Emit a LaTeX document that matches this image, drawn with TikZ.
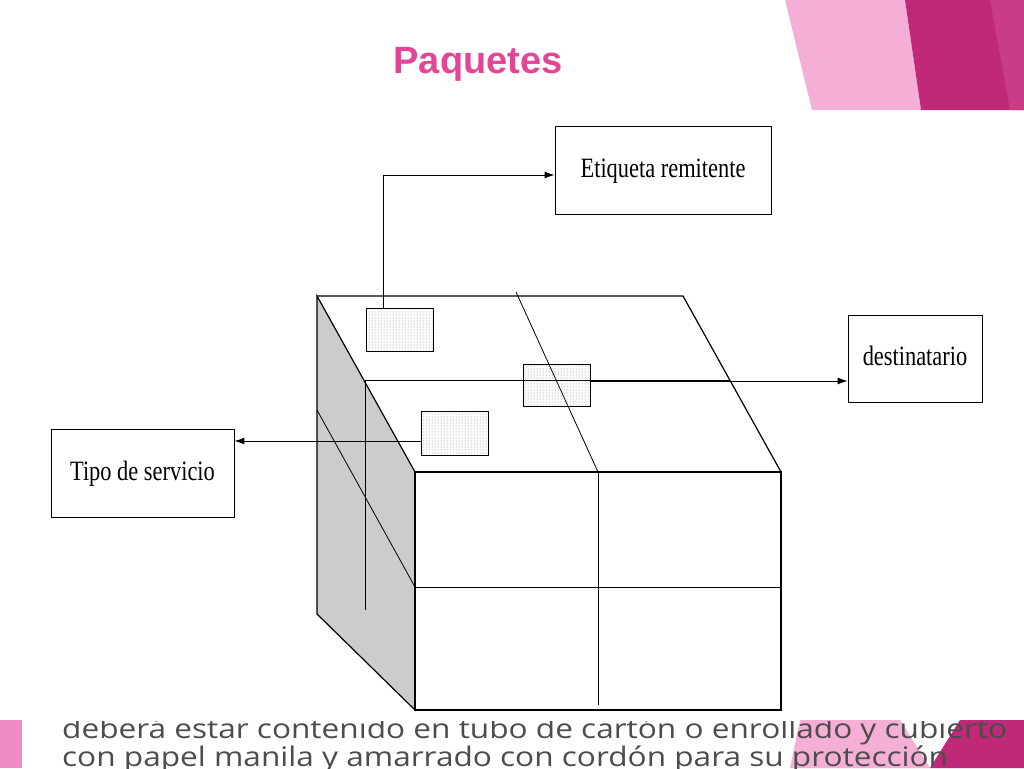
\documentclass[tikz,border=0pt]{standalone}
\usepackage{fontspec}
\setmainfont{Liberation Serif}
\newfontfamily\titlefont{Liberation Sans}
\newfontfamily\bodyfont{Open Sans}
\usetikzlibrary{arrows.meta,patterns}
\definecolor{pinkA}{RGB}{240,140,195}
\definecolor{magA}{RGB}{192,40,120}
\definecolor{titlec}{RGB}{228,70,150}
\begin{document}
\begin{tikzpicture}[x=1pt,y=-1pt,
  lbl/.style={draw,line width=0.8pt,fill=white,minimum width=#1,inner sep=0pt,font=\fontsize{28}{30}\selectfont,text height=19pt,text depth=5pt},
  tag/.style={draw,line width=0.6pt,pattern=dots,pattern color=gray},
  arr/.style={line width=1pt,-{Latex[length=10pt,width=7pt]}},
  edge/.style={line width=1.2pt}]
\useasboundingbox (0,0) rectangle (1024,768);
% decorations
\fill[pinkA!70] (785,0) -- (905,0) -- (921,110) -- (812,110) -- cycle;
\fill[magA] (905,0) -- (1024,0) -- (1024,110) -- (921,110) -- cycle;
\fill[magA!80!pinkA] (990,0) -- (1024,0) -- (1024,110) -- (1010,110) -- cycle;
\fill[pinkA] (0,720) rectangle (22,768);
\fill[pinkA!70] (800,720) -- (900,720) -- (930,768) -- (790,768) -- cycle;
\fill[magA] (960,720) -- (1024,720) -- (1024,768) -- (930,768) -- cycle;
% bottom text (cut off)
\begin{scope}
\clip (0,721) rectangle (1024,768);
\node[anchor=base west,inner sep=0pt,font=\bodyfont\fontsize{27}{30}\selectfont,text=black!70] (t1) at (62,738) {\scalebox{1.17}[1]{deberá estar contenido en tubo de cartón o enrollado y cubierto}};
\node[anchor=base west,inner sep=0pt,font=\bodyfont\fontsize{27}{30}\selectfont,text=black!70] (t2) at (62,766) {\scalebox{1.17}[1]{con papel manila y amarrado con cordón para su protección}};
\end{scope}
% title
\node[font=\titlefont\bfseries\fontsize{38}{42}\selectfont,text=titlec] (title) at (478,64) {Paquetes};
% box
\fill[white] (317,296) -- (683,296) -- (781,472) -- (781,712) -- (415,712) -- (317,614) -- cycle;
\filldraw[fill=gray!40,edge] (317,296) -- (415,472) -- (415,710) -- (317,614) -- cycle;
\draw[edge] (317,296) -- (683,296) -- (781,472) -- (415,472);
\draw[edge] (415,472) rectangle (781,710);
\draw[line width=0.8pt] (415,587) -- (781,587);
\draw[line width=0.8pt] (598,472) -- (598,705);
\draw[line width=0.8pt] (516,292) -- (598,472);
\draw[line width=0.8pt] (365,380) -- (730,380);
\draw[line width=0.8pt] (365,380) -- (365,610);
\draw[line width=0.8pt] (317,410) -- (415,587);
% tags
\node[tag,minimum width=67pt,minimum height=43pt] (g1) at (399.5,329.5) {};
\node[tag,minimum width=67pt,minimum height=42pt] (g2) at (556.5,385) {};
\node[tag,minimum width=67pt,minimum height=44pt] (g3) at (454.5,433) {};
% labels
\node[lbl=216pt,minimum height=88pt] (etq) at (663,170) {\scalebox{0.8}[1]{Etiqueta remitente}};
\node[lbl=134pt,minimum height=87pt] (dest) at (915,358.5) {\scalebox{0.8}[1]{destinatario}};
\node[lbl=183pt,minimum height=88pt] (tipo) at (142.5,473) {\scalebox{0.8}[1]{Tipo de servicio}};
% arrows
\coordinate (c1) at (383,175);
\draw[arr] (383,308) -- (c1) -- (etq.west|-c1);
\draw[arr] (g2.east|-0,381) -- (dest.west|-0,381);
\draw[arr] (g3.west|-0,441) -- (tipo.east|-0,441);
\end{tikzpicture}
\end{document}
